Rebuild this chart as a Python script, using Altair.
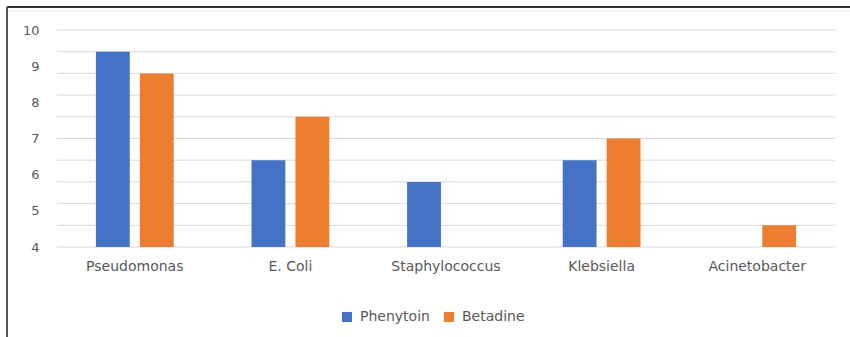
import altair as alt
import pandas as pd

# Bacteria tested and the mean readings for each treatment
categories = ["Pseudomonas", "E. Coli", "Staphylococcus", "Klebsiella", "Acinetobacter"]
series = ["Phenytoin", "Betadine"]
phenytoin = [9.4, 6.4, 5.8, 6.4, None]
betadine = [8.8, 7.6, None, 7.0, 4.6]
colors = ["#4472C4", "#ED7D31"]

y_ticks = [4, 5, 6, 7, 8, 9, 10]
grid_values = [4.0, 4.6, 5.2, 5.8, 6.4, 7.0, 7.6, 8.2, 8.8, 9.4, 10.0]

W, H = 778, 217
PAD_L, PAD_T = 57, 30
TEXT = "#595959"
FONT = "DejaVu Sans"

rows = []
for name, vals in zip(series, [phenytoin, betadine]):
    for cat, v in zip(categories, vals):
        rows.append({"Organism": cat, "Treatment": name, "Value": v})
df = pd.DataFrame(rows)

y_scale = alt.Scale(domain=[4, 10], nice=False, zero=False)
y_axis = alt.Axis(values=y_ticks, grid=False, domain=False, ticks=False,
                  labelPadding=18, labelColor=TEXT, labelFontSize=13,
                  labelFont=FONT, labelOverlap=False, title=None)

grid = (
    alt.Chart(pd.DataFrame({"g": grid_values}))
    .mark_rule(color="#D9D9D9", strokeWidth=1)
    .encode(
        y=alt.Y("g:Q", scale=y_scale, axis=y_axis),
        x=alt.value(0),
        x2=alt.value(W),
    )
)

bars = (
    alt.Chart(df)
    .mark_bar()
    .encode(
        x=alt.X("Organism:N", sort=categories,
                scale=alt.Scale(paddingInner=0.5, paddingOuter=0.25),
                axis=alt.Axis(title=None, labelAngle=0, domain=False, ticks=False,
                              labelPadding=12, labelColor=TEXT, labelFontSize=14,
                              labelFont=FONT)),
        xOffset=alt.XOffset("Treatment:N", sort=series,
                            scale=alt.Scale(paddingInner=0.23)),
        y=alt.Y("Value:Q", scale=y_scale, axis=y_axis),
        y2=alt.datum(4),
        color=alt.Color("Treatment:N", sort=series,
                        scale=alt.Scale(domain=series, range=colors),
                        legend=alt.Legend(title=None, orient="none", direction="horizontal",
                                          legendX=283, legendY=280,
                                          symbolType="square", symbolSize=100,
                                          symbolStrokeWidth=0,
                                          labelFontSize=14, labelColor=TEXT, labelFont=FONT,
                                          columnPadding=12, labelOffset=6)),
    )
)

# outer frame: dark line across the top and down the left side
frame_top = alt.Chart(pd.DataFrame({"k": [0]})).mark_rule(color="#333333", strokeWidth=2).encode(
    x=alt.value(-PAD_L + 7), x2=alt.value(850 - PAD_L), y=alt.value(-PAD_T + 7)
)
frame_top_inner = alt.Chart(pd.DataFrame({"k": [0]})).mark_rule(color="#E6E6E6", strokeWidth=1).encode(
    x=alt.value(-PAD_L + 8), x2=alt.value(850 - PAD_L), y=alt.value(-PAD_T + 11)
)
frame_left = alt.Chart(pd.DataFrame({"k": [0]})).mark_rule(color="#555555", strokeWidth=2).encode(
    x=alt.value(-PAD_L + 7), y=alt.value(-PAD_T + 7), y2=alt.value(337 - PAD_T)
)

chart = (
    alt.layer(grid, bars, frame_top, frame_top_inner, frame_left)
    .properties(
        width=W, height=H,
        autosize=alt.AutoSizeParams(type="none"),
        padding={"left": PAD_L, "top": PAD_T, "right": 850 - PAD_L - W, "bottom": 337 - PAD_T - H},
        background="white",
    )
    .configure_view(stroke=None)
)

chart.save("out.html", embed_options={"renderer": "svg", "actions": False})
